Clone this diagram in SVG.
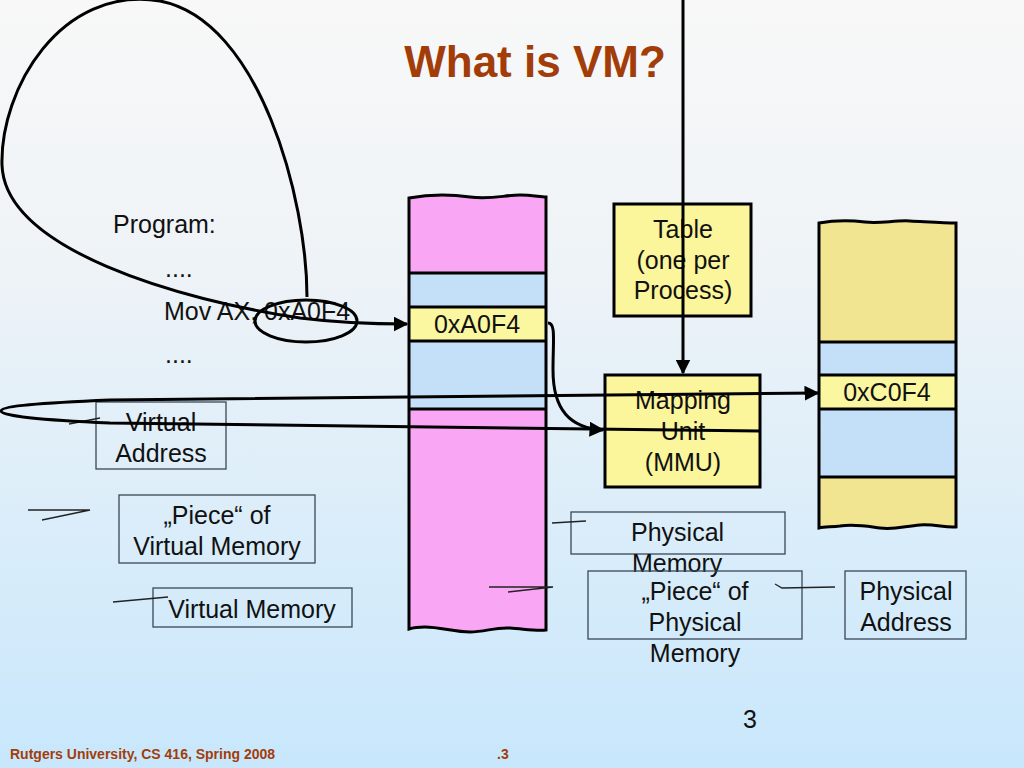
<svg xmlns="http://www.w3.org/2000/svg" width="1024" height="768" viewBox="0 0 1024 768">
<defs>
<linearGradient id="bg" x1="0" y1="0" x2="0" y2="1">
<stop offset="0" stop-color="#f8f8f8"/>
<stop offset="0.35" stop-color="#eef3f7"/>
<stop offset="1" stop-color="#c8e7fc"/>
</linearGradient>
<marker id="arr" viewBox="0 0 10 10" refX="9" refY="5" markerWidth="5" markerHeight="5" orient="auto-start-reverse" markerUnits="strokeWidth">
<path d="M0,0 L10,5 L0,10 z" fill="#000"/>
</marker>
<style>
.t{font-family:"Liberation Sans",Arial,sans-serif;font-size:25px;fill:#111}
.c{text-anchor:middle}
.blk{stroke:#000;stroke-width:3}
.lbl{fill:none;stroke:#3a4756;stroke-width:1.3}
.call{fill:none;stroke:#222;stroke-width:1.3}
.conn{fill:none;stroke:#000;stroke-width:3}
.pink{fill:#f9a7f4}
.blue{fill:#c4e0f9}
.yel{fill:#fbf7a0}
.tan{fill:#f2e591}
.box{fill:#fbf59c;stroke:#000;stroke-width:3}
</style>
</defs>
<rect width="1024" height="768" fill="url(#bg)"/>
<text x="535" y="77" class="c" font-family="Liberation Sans,Arial,sans-serif" font-weight="bold" font-size="44" fill="#a23d0a">What is VM?</text>

<g id="program">
<text class="t" x="113" y="233">Program:</text>
<text class="t" x="165" y="277">....</text>
<text class="t" x="164" y="320">Mov AX, 0xA0F4</text>
<text class="t" x="165" y="363">....</text>
</g>

<g id="virtual-memory">
<path class="pink" d="M409,198 C430,194 450,194 470,197 C490,200 505,195 520,195 C532,195 540,197 546,197 L546,273 L409,273 z"/>
<rect class="blue" x="409" y="273" width="137" height="34"/>
<rect class="yel" x="409" y="307" width="137" height="34"/>
<rect class="blue" x="409" y="341" width="137" height="68"/>
<path class="pink" d="M409,409 L546,409 L546,630 C535,631 525,629 510,628 C495,627 485,632 470,632 C455,632 440,627 425,627 C418,627 412,628 409,629 z"/>
<path class="blk" fill="none" d="M409,198 C430,194 450,194 470,197 C490,200 505,195 520,195 C532,195 540,197 546,197 L546,630 C535,631 525,629 510,628 C495,627 485,632 470,632 C455,632 440,627 425,627 C418,627 412,628 409,629 z"/>
<path class="blk" d="M409,273 H546 M409,307 H546 M409,341 H546 M409,409 H546"/>
<text class="t c" x="477" y="333">0xA0F4</text>
</g>

<g id="physical-memory">
<path class="tan" d="M819,223 C835,220 850,220 865,222 C880,224 895,220 910,221 C930,222 945,223 956,223 L956,342 L819,342 z"/>
<rect class="blue" x="819" y="342" width="137" height="33"/>
<rect class="yel" x="819" y="375" width="137" height="34"/>
<rect class="blue" x="819" y="409" width="137" height="68"/>
<path class="tan" d="M819,477 L956,477 L956,527 C945,528 935,524 920,525 C905,526 895,530 880,528 C865,526 855,524 840,526 C830,527 824,527 819,528 z"/>
<path class="blk" fill="none" d="M819,223 C835,220 850,220 865,222 C880,224 895,220 910,221 C930,222 945,223 956,223 L956,527 C945,528 935,524 920,525 C905,526 895,530 880,528 C865,526 855,524 840,526 C830,527 824,527 819,528 z"/>
<path class="blk" d="M819,342 H956 M819,375 H956 M819,409 H956 M819,477 H956"/>
<text class="t c" x="887" y="401">0xC0F4</text>
</g>

<g id="table">
<rect class="box" x="614" y="204" width="137" height="112"/>
<text class="t c" x="683" y="238">Table</text>
<text class="t c" x="683" y="269">(one per</text>
<text class="t c" x="683" y="299">Process)</text>
</g>

<g id="mmu">
<rect class="box" x="605" y="375" width="155" height="112"/>
<text class="t c" x="683" y="409">Mapping</text>
<text class="t c" x="683" y="440">Unit</text>
<text class="t c" x="683" y="471">(MMU)</text>
</g>

<g id="label-virtual-address">
<rect class="lbl" x="96" y="402" width="130" height="67"/>
<text class="t c" x="161" y="431">Virtual</text>
<text class="t c" x="161" y="462">Address</text>
</g>
<g id="label-piece-vm">
<rect class="lbl" x="119" y="495" width="196" height="68"/>
<text class="t c" x="217" y="524">„Piece“ of</text>
<text class="t c" x="217" y="555">Virtual Memory</text>
</g>
<g id="label-vm">
<rect class="lbl" x="153" y="588" width="199" height="39"/>
<text class="t c" x="252" y="618">Virtual Memory</text>
</g>
<g id="label-pm">
<rect class="lbl" x="571" y="512" width="214" height="42"/>
<text class="t" x="631" y="541">Physical</text>
<text class="t" x="632" y="572">Memory</text>
</g>
<g id="label-piece-pm">
<rect class="lbl" x="588" y="571" width="214" height="68"/>
<text class="t c" x="695" y="600">„Piece“ of</text>
<text class="t c" x="695" y="631">Physical</text>
<text class="t c" x="695" y="662">Memory</text>
</g>
<g id="label-pa">
<rect class="lbl" x="845" y="571" width="121" height="68"/>
<text class="t c" x="906" y="600">Physical</text>
<text class="t c" x="906" y="631">Address</text>
</g>

<g id="callouts">
<path class="call" d="M69,424 L100,418"/>
<path class="call" d="M28,510 L90,510 L42,520"/>
<path class="call" d="M113,602 L168,597"/>
<path class="call" d="M552,523 L586,521"/>
<path class="call" d="M489,587 L553,587 L508,592"/>
<path class="call" d="M775,584 L782,588 L835,587"/>
</g>

<g id="connectors">
<ellipse cx="306" cy="321" rx="51" ry="21" fill="none" stroke="#000" stroke-width="3"/>
<path class="conn" marker-end="url(#arr)" d="M307,297 C307,200 260,20 160,1 C60,-15 0,90 2,165 C5,250 180,300 300,318 C340,323 370,324 407,324"/>
<path class="conn" marker-end="url(#arr)" d="M548,323 C556,323 553,340 553,370 C553,410 570,428 603,430"/>
<path class="conn" marker-end="url(#arr)" d="M683,0 L683,373"/>
<path class="conn" marker-end="url(#arr)" d="M760,431 L110,423 C40,420 1,416 1,411 C1,406 40,403 110,400 L818,393"/>
</g>

<text class="t" x="743" y="728">3</text>
<text x="10" y="759" font-family="Liberation Sans,Arial,sans-serif" font-weight="bold" font-size="14" fill="#a23d0a">Rutgers University, CS 416, Spring 2008</text>
<text x="497" y="759" font-family="Liberation Sans,Arial,sans-serif" font-weight="bold" font-size="14" fill="#a23d0a">.3</text>
</svg>
